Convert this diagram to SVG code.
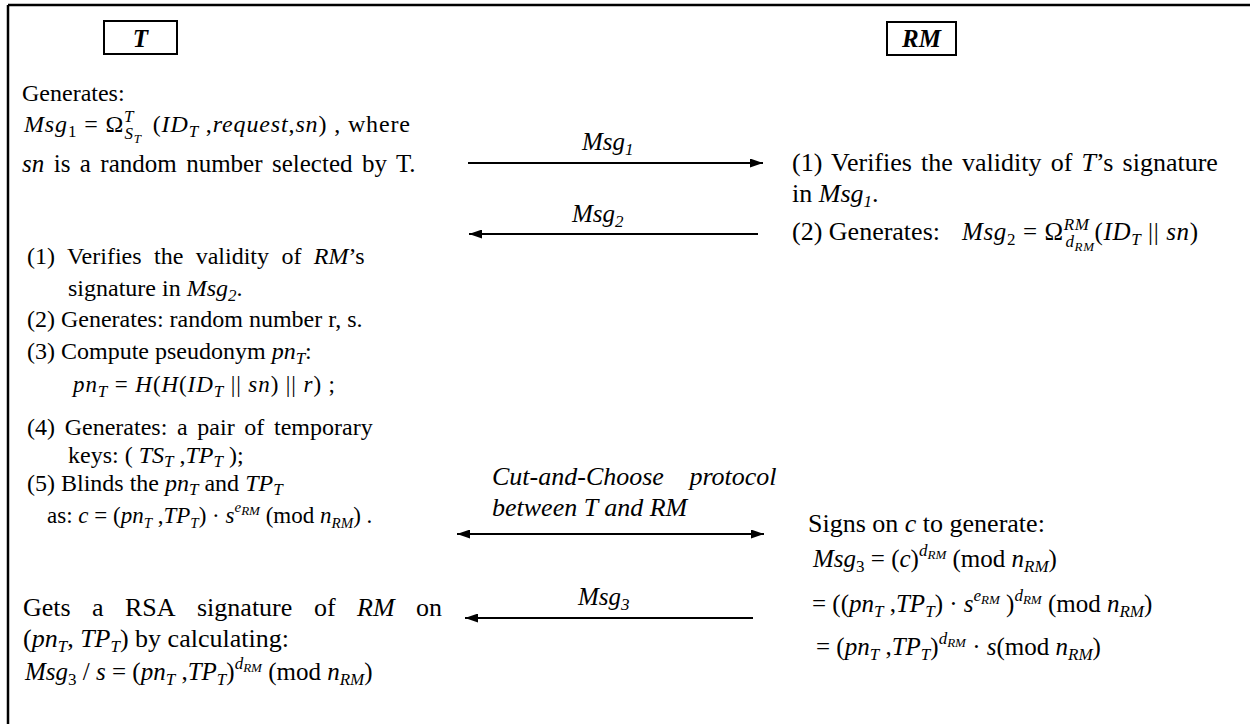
<svg xmlns="http://www.w3.org/2000/svg" width="1250" height="724" viewBox="0 0 1250 724" font-family="'Liberation Serif', 'DejaVu Serif', 'Times New Roman', serif">
<style>
text { font-family: "Liberation Serif", "DejaVu Serif", "Times New Roman", serif; font-size: 25px; fill: #000; }
.f24 { font-size: 24px; }
.f23 { font-size: 23px; }
.f26 { font-size: 26px; }
.i { font-style: italic; }
.b { font-weight: bold; }
.s { font-size: 17px; }
.s15 { font-size: 15px; }
.ss { font-size: 13px; }
.box { fill: #fff; stroke: #000; stroke-width: 2; }
.conn { stroke: #000; stroke-width: 2; fill: none; }
</style>
<defs>
<marker id="ah" viewBox="0 0 13 9" refX="13" refY="4.5" markerWidth="13" markerHeight="9" markerUnits="userSpaceOnUse" orient="auto-start-reverse">
<path d="M0,0 L13,4.5 L0,9 z" fill="#000"/>
</marker>
</defs>
<rect width="1250" height="724" fill="#fff"/>
<g id="frame">
<line x1="8" y1="5" x2="1250" y2="5" stroke="#000" stroke-width="2.5"/>
<line x1="8" y1="5" x2="8" y2="724" stroke="#000" stroke-width="2.5"/>
</g>
<g id="node-T">
<rect class="box" x="104" y="21" width="73" height="33"/>
<text class="i b" x="140.5" y="47" text-anchor="middle">T</text>
</g>
<g id="node-RM">
<rect class="box" x="887" y="22" width="69" height="33"/>
<text class="i b" x="921.5" y="47" text-anchor="middle">RM</text>
</g>
<g id="T-step1">
<text class="f24" x="22" y="101">Generates:</text>
<text class="f24" x="24" y="132" textLength="386" lengthAdjust="spacing"><tspan class="i">Msg</tspan><tspan class="s" dy="5">1</tspan><tspan dy="-5"> = Ω</tspan><tspan class="s i" dy="-10">T</tspan><tspan class="s i" dx="-10" dy="17">S</tspan><tspan class="ss i" dy="4">T</tspan><tspan dx="4" dy="-11"> (</tspan><tspan class="i">ID</tspan><tspan class="s i" dy="5">T</tspan><tspan dy="-5"> ,</tspan><tspan class="i">request</tspan>,<tspan class="i">sn</tspan>) , where</text>
<text x="22" y="172" style="word-spacing:3.2px"><tspan class="i">sn</tspan> is a random number selected by T.</text>
</g>
<g id="RM-step1">
<text class="f26" x="792" y="171" style="word-spacing:2.7px">(1) Verifies the validity of <tspan class="i">T</tspan>’s signature</text>
<text class="f26" x="792" y="202">in <tspan class="i">Msg</tspan><tspan class="s i" dy="5">1</tspan><tspan dy="-5">.</tspan></text>
<text class="f26" x="792" y="240">(2) Generates:</text>
<text x="962" y="240" textLength="236" lengthAdjust="spacing"><tspan class="i">Msg</tspan><tspan class="s" dy="5">2</tspan><tspan dy="-5"> = Ω</tspan><tspan class="s i" dy="-10">RM</tspan><tspan class="s i" dx="-24" dy="17">d</tspan><tspan class="ss i" dy="4">RM</tspan><tspan dy="-11">(</tspan><tspan class="i">ID</tspan><tspan class="s i" dy="5">T</tspan><tspan dy="-5"> || </tspan><tspan class="i">sn</tspan>)</text>
</g>
<g id="T-step2">
<text class="f24" x="27" y="264" style="word-spacing:6.4px">(1) Verifies the validity of <tspan class="i">RM</tspan>’s</text>
<text class="f24" x="68" y="296">signature in <tspan class="i">Msg</tspan><tspan class="s i" dy="5">2</tspan><tspan dy="-5">.</tspan></text>
<text class="f24" x="27" y="327">(2) Generates: random number r, s.</text>
<text class="f24" x="27" y="359">(3) Compute pseudonym <tspan class="i">pn</tspan><tspan class="s i" dy="5">T</tspan><tspan dy="-5">:</tspan></text>
<text class="f23" x="73" y="392" textLength="262" lengthAdjust="spacing"><tspan class="i">pn</tspan><tspan class="s i" dy="5">T</tspan><tspan dy="-5"> = </tspan><tspan class="i">H</tspan>(<tspan class="i">H</tspan>(<tspan class="i">ID</tspan><tspan class="s i" dy="5">T</tspan><tspan dy="-5"> || </tspan><tspan class="i">sn</tspan>) || <tspan class="i">r</tspan>) ;</text>
<text class="f24" x="27" y="435" style="word-spacing:3.7px">(4) Generates: a pair of temporary</text>
<text class="f24" x="68" y="463">keys: ( <tspan class="i">TS</tspan><tspan class="s i" dy="4">T</tspan><tspan dy="-4"> ,</tspan><tspan class="i">TP</tspan><tspan class="s i" dy="4">T</tspan><tspan dy="-4"> );</tspan></text>
<text class="f24" x="27" y="491">(5) Blinds the <tspan class="i">pn</tspan><tspan class="s i" dy="4">T</tspan><tspan dy="-4"> and </tspan><tspan class="i">TP</tspan><tspan class="s i" dy="4">T</tspan></text>
<text class="f23" x="47" y="523">as: <tspan class="i">c</tspan> = (<tspan class="i">pn</tspan><tspan class="s15 i" dy="5">T</tspan><tspan dy="-5"> ,</tspan><tspan class="i">TP</tspan><tspan class="s15 i" dy="5">T</tspan><tspan dy="-5">) · </tspan><tspan class="i">s</tspan><tspan class="s15 i" dy="-11">e</tspan><tspan class="ss i" dy="3">RM</tspan><tspan dy="8"> (mod </tspan><tspan class="i">n</tspan><tspan class="s15 i" dy="5">RM</tspan><tspan dy="-5">) .</tspan></text>
</g>
<g id="RM-step2">
<text class="f26" x="808" y="532">Signs on <tspan class="i">c</tspan> to generate:</text>
<text x="813" y="567"><tspan class="i">Msg</tspan><tspan class="s" dy="5">3</tspan><tspan dy="-5"> = (</tspan><tspan class="i">c</tspan>)<tspan class="s i" dy="-11">d</tspan><tspan class="ss i" dy="3">RM</tspan><tspan dy="8"> (mod </tspan><tspan class="i">n</tspan><tspan class="s i" dy="5">RM</tspan><tspan dy="-5">)</tspan></text>
<text x="812" y="612"><tspan>= ((</tspan><tspan class="i">pn</tspan><tspan class="s i" dy="5">T</tspan><tspan dy="-5"> ,</tspan><tspan class="i">TP</tspan><tspan class="s i" dy="5">T</tspan><tspan dy="-5">) · </tspan><tspan class="i">s</tspan><tspan class="s i" dy="-11">e</tspan><tspan class="ss i" dy="3">RM</tspan><tspan dy="8"> )</tspan><tspan class="s i" dy="-11">d</tspan><tspan class="ss i" dy="3">RM</tspan><tspan dy="8"> (mod </tspan><tspan class="i">n</tspan><tspan class="s i" dy="5">RM</tspan><tspan dy="-5">)</tspan></text>
<text x="816" y="655"><tspan>= (</tspan><tspan class="i">pn</tspan><tspan class="s i" dy="5">T</tspan><tspan dy="-5"> ,</tspan><tspan class="i">TP</tspan><tspan class="s i" dy="5">T</tspan><tspan dy="-5">)</tspan><tspan class="s i" dy="-11">d</tspan><tspan class="ss i" dy="3">RM</tspan><tspan dy="8">  · </tspan><tspan class="i">s</tspan>(mod <tspan class="i">n</tspan><tspan class="s i" dy="5">RM</tspan><tspan dy="-5">)</tspan></text>
</g>
<g id="T-step3">
<text class="f26" y="616"><tspan x="23">Gets</tspan><tspan x="92">a</tspan><tspan x="125">RSA</tspan><tspan x="197">signature</tspan><tspan x="314">of</tspan><tspan x="357" class="i">RM</tspan><tspan x="416">on</tspan></text>
<text class="f26" x="23" y="647">(<tspan class="i">pn</tspan><tspan class="s i" dy="5">T</tspan><tspan dy="-5">, </tspan><tspan class="i">TP</tspan><tspan class="s i" dy="5">T</tspan><tspan dy="-5">) by calculating:</tspan></text>
<text x="25" y="680"><tspan class="i">Msg</tspan><tspan class="s" dy="5">3</tspan><tspan dy="-5"> / </tspan><tspan class="i">s</tspan> = (<tspan class="i">pn</tspan><tspan class="s i" dy="5">T</tspan><tspan dy="-5"> ,</tspan><tspan class="i">TP</tspan><tspan class="s i" dy="5">T</tspan><tspan dy="-5">)</tspan><tspan class="s i" dy="-11">d</tspan><tspan class="ss i" dy="3">RM</tspan><tspan dy="8"> (mod </tspan><tspan class="i">n</tspan><tspan class="s i" dy="5">RM</tspan><tspan dy="-5">)</tspan></text>
</g>
<g id="connectors">
<line class="conn" x1="468" y1="163" x2="763" y2="163" marker-end="url(#ah)"/>
<line class="conn" x1="758" y1="234" x2="469" y2="234" marker-end="url(#ah)"/>
<line class="conn" x1="457" y1="534" x2="764" y2="534" marker-start="url(#ah)" marker-end="url(#ah)"/>
<line class="conn" x1="753" y1="618" x2="465" y2="618" marker-end="url(#ah)"/>
<text x="582" y="150"><tspan class="i">Msg</tspan><tspan class="s i" dy="5">1</tspan></text>
<text x="572" y="222"><tspan class="i">Msg</tspan><tspan class="s i" dy="5">2</tspan></text>
<text class="i f26" x="492" y="485" style="word-spacing:19px">Cut-and-Choose protocol</text>
<text class="i f26" x="492" y="516">between T and RM</text>
<text x="578" y="605"><tspan class="i">Msg</tspan><tspan class="s i" dy="5">3</tspan></text>
</g>
</svg>
